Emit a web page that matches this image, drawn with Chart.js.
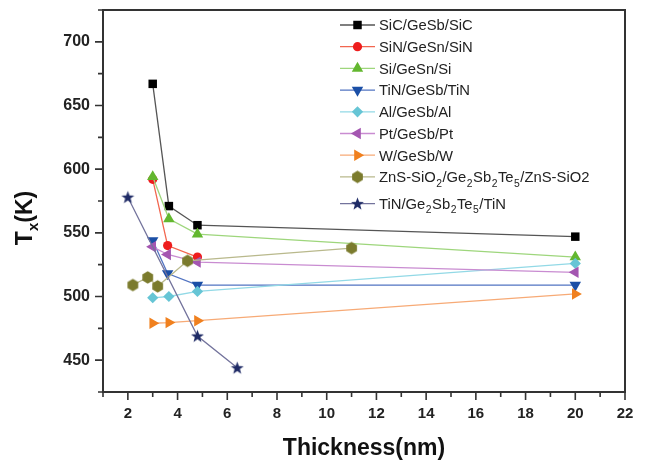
<!DOCTYPE html>
<html>
<head>
<meta charset="utf-8">
<script src="https://cdn.jsdelivr.net/npm/chart.js@4.4.0/dist/chart.umd.min.js"></script>
<style>
  html, body { margin: 0; padding: 0; background: #fff; }
  #wrap { width: 646px; height: 461px; }
</style>
</head>
<body>
<div id="wrap"><canvas id="chart" width="646" height="461"></canvas></div>
<script>
// Tx vs film thickness
const seriesNames = [
    'SiC/GeSb/SiC', 'SiN/GeSn/SiN', 'Si/GeSn/Si', 'TiN/GeSb/TiN', 'Al/GeSb/Al',
    'Pt/GeSb/Pt', 'W/GeSb/W', 'ZnS-SiO_2/Ge_2Sb_2Te_5/ZnS-SiO2', 'TiN/Ge_2Sb_2Te_5/TiN'
];

const sicX = [3, 3.65, 4.8, 20];       const sicY = [667, 571, 556, 547];
const sinX = [3, 3.6, 4.8];            const sinY = [592, 540, 531];
const siX = [3, 3.65, 4.8, 20];        const siY = [594, 561, 549, 531];
const tinX = [3, 3.6, 4.8, 20];        const tinY = [544, 518, 509, 509];
const alX = [3, 3.65, 4.8, 20];        const alY = [499, 500, 504, 526];
const ptX = [3, 3.6, 4.8, 20];         const ptY = [539, 533, 527, 519];
const wX = [3, 3.65, 4.8, 20];         const wY = [479, 479.5, 481, 502];
const znsX = [2.2, 2.8, 3.2, 4.4, 11]; const znsY = [509, 515, 508, 528, 538];
const gstX = [2, 4.8, 6.4];            const gstY = [578, 469, 444];

const xTickValues = [2, 4, 6, 8, 10, 12, 14, 16, 18, 20, 22];
const yTickValues = [450, 500, 550, 600, 650, 700];

const allX = [sicX, sinX, siX, tinX, alX, ptX, wX, znsX, gstX];
const allY = [sicY, sinY, siY, tinY, alY, ptY, wY, znsY, gstY];

const lineColors = ['#555555', '#f2664f', '#9ed67c', '#5274c2', '#92d9e6', '#c98cd1', '#f7aa76', '#b9b98c', '#73739c'];
const markColors = ['#000000', '#ee1d1d', '#63b72f', '#1b4fa6', '#66c5d5', '#a456b1', '#f0801e', '#7b7b2d', '#1f2b66'];

const FONT = '"Liberation Sans", Arial, sans-serif';

// custom marker images (hexagon, filled star)
function makeMarker(kind, color) {
    const c = document.createElement('canvas');
    c.width = 15; c.height = 15;
    const g = c.getContext('2d');
    g.fillStyle = color;
    g.beginPath();
    if (kind === 'hex') {
        for (let k = 0; k < 6; k++) {
            const a = Math.PI / 6 + k * Math.PI / 3;
            const px = 7.5 + Math.cos(a) * 6.2, py = 7.5 + Math.sin(a) * 6.2;
            k ? g.lineTo(px, py) : g.moveTo(px, py);
        }
    } else {
        for (let k = 0; k < 10; k++) {
            const a = -Math.PI / 2 + k * Math.PI / 5;
            const r = k % 2 ? 2.8 : 6.8;
            const px = 7.5 + Math.cos(a) * r, py = 8 + Math.sin(a) * r;
            k ? g.lineTo(px, py) : g.moveTo(px, py);
        }
    }
    g.closePath();
    g.fill();
    return c;
}

const pointStyles = ['rect', 'circle', 'triangle', 'triangle', 'rectRot', 'triangle', 'triangle',
    makeMarker('hex', markColors[7]), makeMarker('star', markColors[8])];
const pointRadii = [6, 4.6, 6.6, 6.6, 5.6, 6.6, 6.6, 6, 6];
const pointRotations = [0, 0, 0, 180, 0, 270, 90, 0, 0];

const datasets = seriesNames.map((name, i) => ({
    label: name,
    data: allX[i].map((x, j) => ({ x: x, y: allY[i][j] })),
    showLine: true,
    borderColor: lineColors[i],
    borderWidth: 1.3,
    backgroundColor: markColors[i],
    pointBackgroundColor: markColors[i],
    pointBorderColor: markColors[i],
    pointBorderWidth: 0,
    pointStyle: pointStyles[i],
    pointRadius: pointRadii[i],
    pointHoverRadius: pointRadii[i],
    pointRotation: pointRotations[i],
    tension: 0,
    order: 20 - i // later series on top, like the original
}));

// draw text with "_d" meaning subscript d
function drawRich(ctx, text, x, y, size, bold) {
    const parts = text.split(/(_\w)/);
    let cx = x;
    parts.forEach(p => {
        if (!p) return;
        if (p[0] === '_') {
            ctx.font = `${bold ? 'bold ' : ''}${size * 0.7}px ${FONT}`;
            ctx.fillText(p[1], cx + 0.5, y + size * 0.3);
            cx += ctx.measureText(p[1]).width + 1;
        } else {
            ctx.font = `${bold ? 'bold ' : ''}${size}px ${FONT}`;
            ctx.fillText(p, cx, y);
            cx += ctx.measureText(p).width;
        }
    });
    return cx - x;
}

function drawMarker(ctx, i, x, y) {
    const style = pointStyles[i];
    const r = pointRadii[i];
    ctx.save();
    ctx.translate(x, y);
    ctx.rotate(pointRotations[i] * Math.PI / 180);
    ctx.fillStyle = markColors[i];
    if (typeof style === 'object') {
        ctx.drawImage(style, -style.width / 2, -style.height / 2);
    } else {
        ctx.beginPath();
        if (style === 'rect') {
            const s = r * Math.SQRT1_2;
            ctx.rect(-s, -s, 2 * s, 2 * s);
        } else if (style === 'circle') {
            ctx.arc(0, 0, r, 0, Math.PI * 2);
        } else if (style === 'rectRot') {
            ctx.moveTo(0, -r); ctx.lineTo(r, 0); ctx.lineTo(0, r); ctx.lineTo(-r, 0);
        } else {
            ctx.moveTo(0, -r);
            ctx.lineTo(Math.sin(2 * Math.PI / 3) * r, -Math.cos(2 * Math.PI / 3) * r);
            ctx.lineTo(Math.sin(4 * Math.PI / 3) * r, -Math.cos(4 * Math.PI / 3) * r);
        }
        ctx.closePath();
        ctx.fill();
    }
    ctx.restore();
}

const decorPlugin = {
    id: 'decor',
    afterDraw(chart) {
        const ctx = chart.ctx;
        const a = chart.chartArea;
        const xs = chart.scales.x, ys = chart.scales.y;
        ctx.save();
        ctx.strokeStyle = '#333';
        ctx.lineWidth = 2;
        ctx.strokeRect(a.left, a.top, a.right - a.left, a.bottom - a.top);

        // ticks (major + minor), pointing out
        ctx.lineWidth = 1.6;
        ctx.beginPath();
        for (let v = xs.min; v <= xs.max; v += 1) {
            const px = xs.getPixelForValue(v);
            const len = xTickValues.includes(v) ? 8 : 5;
            ctx.moveTo(px, a.bottom);
            ctx.lineTo(px, a.bottom + len);
        }
        for (let v = ys.min; v <= ys.max; v += 25) {
            const py = ys.getPixelForValue(v);
            const len = yTickValues.includes(v) ? 8 : 5;
            ctx.moveTo(a.left, py);
            ctx.lineTo(a.left - len, py);
        }
        ctx.stroke();

        // axis titles
        ctx.fillStyle = '#111';
        ctx.textBaseline = 'alphabetic';
        ctx.textAlign = 'left';
        ctx.font = `bold 23px ${FONT}`;
        const xt = 'Thickness(nm)';
        const xw = ctx.measureText(xt).width;
        ctx.fillText(xt, 364 - xw / 2, 455);

        ctx.save();
        ctx.translate(32, 218);
        ctx.rotate(-Math.PI / 2);
        ctx.font = `bold 23px ${FONT}`;
        const w1 = ctx.measureText('T').width;
        ctx.font = `bold 15px ${FONT}`;
        const w2 = ctx.measureText('x').width;
        ctx.font = `bold 23px ${FONT}`;
        const w3 = ctx.measureText('(K)').width;
        let sx = -(w1 + w2 + w3) / 2;
        ctx.fillText('T', sx, 0); sx += w1;
        ctx.font = `bold 15px ${FONT}`;
        ctx.fillText('x', sx, 6); sx += w2;
        ctx.font = `bold 23px ${FONT}`;
        ctx.fillText('(K)', sx, 0);
        ctx.restore();

        // legend
        const lx0 = 340, lx1 = 375, mx = 357.5, tx = 379;
        seriesNames.forEach((name, i) => {
            const ry = 25 + i * 21.7 + (i === 8 ? 5 : 0);
            ctx.strokeStyle = lineColors[i];
            ctx.lineWidth = 1.3;
            ctx.beginPath();
            ctx.moveTo(lx0, ry);
            ctx.lineTo(lx1, ry);
            ctx.stroke();
            drawMarker(ctx, i, mx, ry);
            ctx.fillStyle = '#222';
            drawRich(ctx, name, tx, ry + 5.3, 14.8, false);
        });
        ctx.restore();
    }
};

new Chart(document.getElementById('chart'), {
    type: 'scatter',
    data: { datasets: datasets },
    options: {
        responsive: false,
        animation: false,
        events: [],
        layout: { padding: { top: 10, right: 21, left: 0, bottom: 0 } },
        plugins: {
            legend: { display: false },
            tooltip: { enabled: false }
        },
        scales: {
            x: {
                type: 'linear',
                min: 1,
                max: 22,
                afterBuildTicks: s => { s.ticks = xTickValues.map(v => ({ value: v })); },
                afterFit: s => { s.height = 69; s.paddingLeft = 0; s.paddingRight = 0; },
                grid: { display: false, drawTicks: false },
                border: { display: false },
                ticks: {
                    padding: 13,
                    autoSkip: false,
                    maxRotation: 0,
                    color: '#222',
                    font: { family: FONT, size: 15, weight: 'bold' },
                    callback: v => v
                }
            },
            y: {
                type: 'linear',
                min: 425,
                max: 725,
                afterBuildTicks: s => { s.ticks = yTickValues.map(v => ({ value: v })); },
                afterFit: s => { s.width = 103; s.paddingTop = 0; s.paddingBottom = 0; },
                grid: { display: false, drawTicks: false },
                border: { display: false },
                ticks: {
                    padding: 13,
                    color: '#222',
                    font: { family: FONT, size: 16, weight: 'bold' },
                    callback: v => v
                }
            }
        }
    },
    plugins: [decorPlugin]
});
</script>
</body>
</html>
